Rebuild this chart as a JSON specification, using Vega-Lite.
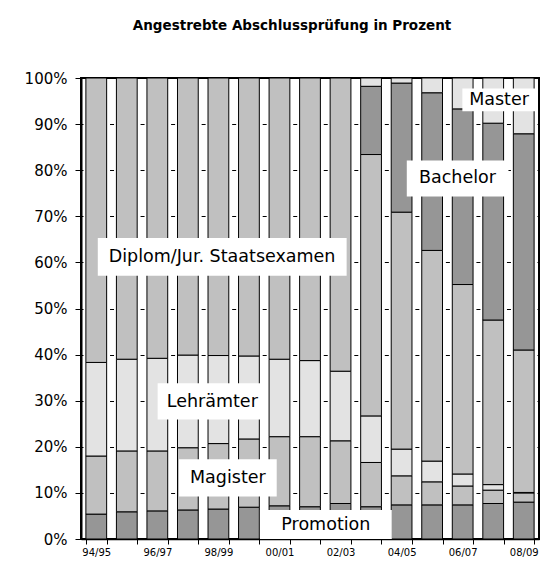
{
  "$schema": "https://vega.github.io/schema/vega-lite/v6.json",
  "width": 458,
  "height": 461,
  "autosize": {"type": "none"},
  "padding": {"left": 81, "top": 78, "right": 8, "bottom": 24},
  "background": "white",
  "config": {
    "view": {"stroke": "#000000", "strokeWidth": 2},
    "font": "DejaVu Sans"
  },
  "title": {
    "text": "Angestrebte Abschlussprüfung in Prozent",
    "font": "DejaVu Sans",
    "fontSize": 13.5,
    "fontWeight": "bold",
    "color": "#000000",
    "anchor": "middle",
    "dx": -18,
    "offset": 39
  },
  "datasets": {
    "shares": [
      {"year": "94/95", "type": "Promotion", "share": 5.4},
      {"year": "94/95", "type": "Magister", "share": 12.6},
      {"year": "94/95", "type": "Lehrämter", "share": 20.3},
      {"year": "94/95", "type": "Diplom/Jur. Staatsexamen", "share": 61.7},
      {"year": "95/96", "type": "Promotion", "share": 5.9},
      {"year": "95/96", "type": "Magister", "share": 13.2},
      {"year": "95/96", "type": "Lehrämter", "share": 19.9},
      {"year": "95/96", "type": "Diplom/Jur. Staatsexamen", "share": 61.0},
      {"year": "96/97", "type": "Promotion", "share": 6.1},
      {"year": "96/97", "type": "Magister", "share": 13.0},
      {"year": "96/97", "type": "Lehrämter", "share": 20.1},
      {"year": "96/97", "type": "Diplom/Jur. Staatsexamen", "share": 60.8},
      {"year": "97/98", "type": "Promotion", "share": 6.3},
      {"year": "97/98", "type": "Magister", "share": 13.5},
      {"year": "97/98", "type": "Lehrämter", "share": 20.1},
      {"year": "97/98", "type": "Diplom/Jur. Staatsexamen", "share": 60.1},
      {"year": "98/99", "type": "Promotion", "share": 6.5},
      {"year": "98/99", "type": "Magister", "share": 14.2},
      {"year": "98/99", "type": "Lehrämter", "share": 19.1},
      {"year": "98/99", "type": "Diplom/Jur. Staatsexamen", "share": 60.2},
      {"year": "99/00", "type": "Promotion", "share": 6.9},
      {"year": "99/00", "type": "Magister", "share": 14.8},
      {"year": "99/00", "type": "Lehrämter", "share": 18.0},
      {"year": "99/00", "type": "Diplom/Jur. Staatsexamen", "share": 60.3},
      {"year": "00/01", "type": "Promotion", "share": 7.2},
      {"year": "00/01", "type": "Magister", "share": 15.0},
      {"year": "00/01", "type": "Lehrämter", "share": 16.8},
      {"year": "00/01", "type": "Diplom/Jur. Staatsexamen", "share": 61.0},
      {"year": "01/02", "type": "Promotion", "share": 7.0},
      {"year": "01/02", "type": "Magister", "share": 15.2},
      {"year": "01/02", "type": "Lehrämter", "share": 16.5},
      {"year": "01/02", "type": "Diplom/Jur. Staatsexamen", "share": 61.3},
      {"year": "02/03", "type": "Promotion", "share": 7.7},
      {"year": "02/03", "type": "Magister", "share": 13.6},
      {"year": "02/03", "type": "Lehrämter", "share": 15.1},
      {"year": "02/03", "type": "Diplom/Jur. Staatsexamen", "share": 63.6},
      {"year": "03/04", "type": "Promotion", "share": 7.0},
      {"year": "03/04", "type": "Magister", "share": 9.6},
      {"year": "03/04", "type": "Lehrämter", "share": 10.1},
      {"year": "03/04", "type": "Diplom/Jur. Staatsexamen", "share": 56.7},
      {"year": "03/04", "type": "Bachelor", "share": 14.8},
      {"year": "03/04", "type": "Master", "share": 1.8},
      {"year": "04/05", "type": "Promotion", "share": 7.4},
      {"year": "04/05", "type": "Magister", "share": 6.3},
      {"year": "04/05", "type": "Lehrämter", "share": 5.8},
      {"year": "04/05", "type": "Diplom/Jur. Staatsexamen", "share": 51.4},
      {"year": "04/05", "type": "Bachelor", "share": 28.0},
      {"year": "04/05", "type": "Master", "share": 1.1},
      {"year": "05/06", "type": "Promotion", "share": 7.4},
      {"year": "05/06", "type": "Magister", "share": 5.0},
      {"year": "05/06", "type": "Lehrämter", "share": 4.5},
      {"year": "05/06", "type": "Diplom/Jur. Staatsexamen", "share": 45.7},
      {"year": "05/06", "type": "Bachelor", "share": 34.2},
      {"year": "05/06", "type": "Master", "share": 3.2},
      {"year": "06/07", "type": "Promotion", "share": 7.4},
      {"year": "06/07", "type": "Magister", "share": 4.1},
      {"year": "06/07", "type": "Lehrämter", "share": 2.6},
      {"year": "06/07", "type": "Diplom/Jur. Staatsexamen", "share": 41.1},
      {"year": "06/07", "type": "Bachelor", "share": 38.1},
      {"year": "06/07", "type": "Master", "share": 6.7},
      {"year": "07/08", "type": "Promotion", "share": 7.7},
      {"year": "07/08", "type": "Magister", "share": 2.9},
      {"year": "07/08", "type": "Lehrämter", "share": 1.2},
      {"year": "07/08", "type": "Diplom/Jur. Staatsexamen", "share": 35.7},
      {"year": "07/08", "type": "Bachelor", "share": 42.7},
      {"year": "07/08", "type": "Master", "share": 9.8},
      {"year": "08/09", "type": "Promotion", "share": 8.0},
      {"year": "08/09", "type": "Magister", "share": 2.0},
      {"year": "08/09", "type": "Lehrämter", "share": 0.1},
      {"year": "08/09", "type": "Diplom/Jur. Staatsexamen", "share": 30.9},
      {"year": "08/09", "type": "Bachelor", "share": 46.9},
      {"year": "08/09", "type": "Master", "share": 12.1}
    ],
    "labels": [
      {"label": "Diplom/Jur. Staatsexamen", "x0": 0.55, "x1": 8.7, "y0": 0.571, "y1": 0.653, "tx": 4.62, "ty": 0.612},
      {"label": "Lehrämter", "x0": 2.51, "x1": 6.1, "y0": 0.259, "y1": 0.338, "tx": 4.3, "ty": 0.298},
      {"label": "Magister", "x0": 3.21, "x1": 6.41, "y0": 0.092, "y1": 0.173, "tx": 4.81, "ty": 0.132},
      {"label": "Promotion", "x0": 5.86, "x1": 10.18, "y0": 0.0, "y1": 0.063, "tx": 8.02, "ty": 0.031},
      {"label": "Bachelor", "x0": 10.67, "x1": 14.0, "y0": 0.743, "y1": 0.821, "tx": 12.33, "ty": 0.782},
      {"label": "Master", "x0": 12.49, "x1": 14.89, "y0": 0.928, "y1": 0.977, "tx": 13.69, "ty": 0.952}
    ]
  },
  "layer": [
    {
      "data": {"name": "shares"},
      "transform": [
        {"calculate": "indexof(['Promotion','Magister','Lehrämter','Diplom/Jur. Staatsexamen','Bachelor','Master'], datum.type)", "as": "stackOrder"}
      ],
      "mark": {"type": "bar", "stroke": "#000000", "strokeWidth": 1},
      "encoding": {
        "x": {
          "field": "year",
          "type": "ordinal",
          "sort": null,
          "scale": {"paddingInner": 0.32, "paddingOuter": 0.16},
          "axis": {
            "title": null,
            "labelAngle": 0,
            "labelFontSize": 10,
            "labelColor": "#000000",
            "labelOverlap": false,
            "labelPadding": 3,
            "labelExpr": "indexof(['94/95','96/97','98/99','00/01','02/03','04/05','06/07','08/09'], datum.label) >= 0 ? datum.label : ''",
            "tickBand": "extent",
            "tickSize": 5,
            "tickColor": "#000000",
            "domainColor": "#000000",
            "domainWidth": 1.5,
            "grid": false
          }
        },
        "y": {
          "field": "share",
          "type": "quantitative",
          "stack": "normalize",
          "scale": {"domain": [0, 1]},
          "axis": {
            "title": null,
            "values": [0, 0.1, 0.2, 0.3, 0.4, 0.5, 0.6, 0.7, 0.8, 0.9, 1],
            "format": ".0%",
            "labelFontSize": 15,
            "labelColor": "#000000",
            "labelPadding": 8,
            "tickSize": 6,
            "tickColor": "#000000",
            "domainColor": "#000000",
            "domainWidth": 2,
            "grid": true,
            "gridColor": "#000000",
            "gridWidth": 1,
            "gridDash": [4, 26.533],
            "gridDashOffset": 2
          }
        },
        "order": {"field": "stackOrder", "type": "quantitative"},
        "color": {
          "field": "type",
          "type": "nominal",
          "scale": {
            "domain": ["Promotion", "Magister", "Lehrämter", "Diplom/Jur. Staatsexamen", "Bachelor", "Master"],
            "range": ["#969696", "#c0c0c0", "#e3e3e3", "#c0c0c0", "#969696", "#e3e3e3"]
          },
          "legend": null
        }
      }
    },
    {
      "data": {"name": "labels"},
      "mark": {"type": "rect", "fill": "#ffffff", "strokeWidth": 0},
      "encoding": {
        "x": {"field": "x0", "type": "quantitative", "scale": {"domain": [0, 15], "nice": false, "zero": false}, "axis": null},
        "x2": {"field": "x1"},
        "y": {"field": "y0", "type": "quantitative"},
        "y2": {"field": "y1"}
      }
    },
    {
      "data": {"name": "labels"},
      "mark": {"type": "text", "font": "DejaVu Sans", "fontSize": 17.5, "color": "#000000", "align": "center", "baseline": "middle"},
      "encoding": {
        "x": {"field": "tx", "type": "quantitative", "scale": {"domain": [0, 15], "nice": false, "zero": false}, "axis": null},
        "y": {"field": "ty", "type": "quantitative"},
        "text": {"field": "label"}
      }
    }
  ],
  "resolve": {"scale": {"x": "independent"}, "axis": {"x": "independent"}}
}
